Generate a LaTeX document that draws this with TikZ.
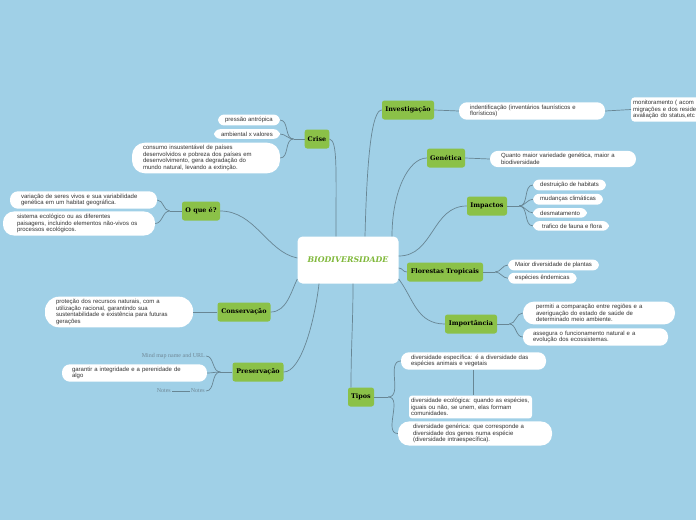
\documentclass[tikz,border=0pt]{standalone}
\usepackage{fontspec}
\setmainfont{Liberation Sans}
\newfontfamily\topicfont{DejaVu Serif}
\newfontfamily\notefont{Liberation Serif}
\usetikzlibrary{positioning}
\definecolor{bgblue}{RGB}{160,208,231}
\definecolor{topicgreen}{RGB}{139,193,72}
\definecolor{titlegreen}{RGB}{128,184,58}
\definecolor{linkgray}{RGB}{104,134,148}
\definecolor{leaftext}{RGB}{50,50,50}
\definecolor{notegray}{RGB}{112,136,150}
\tikzset{
    central/.style={
        fill=white,
        rounded corners=5pt,
        minimum width=101pt,
        minimum height=47pt,
        text=titlegreen,
        font=\topicfont\bfseries\itshape\fontsize{7.8}{9}\selectfont
    },
    topic/.style={
        fill=topicgreen,
        rounded corners=2.5pt,
        inner xsep=3pt,
        minimum height=19pt,
        font=\topicfont\bfseries\fontsize{6.4}{7}\selectfont
    },
    leaf/.style={
        fill=white,
        rounded corners=6pt,
        inner xsep=7pt,
        inner ysep=2.6pt,
        align=left,
        text=leaftext,
        font=\fontsize{6}{6.6}\selectfont
    },
    note/.style={text=notegray, inner sep=1pt, font=\notefont\fontsize{6}{7}\selectfont},
    link/.style={draw=linkgray, line width=0.7pt}
}

\begin{document}
\begin{tikzpicture}[x=1pt, y=-1pt]
        \useasboundingbox (0,0) rectangle (696,520);
        \clip (0,0) rectangle (696,520);
        \fill[bgblue] (0,0) rectangle (696,520);

        % Centre
        \node (bio) [central] at (348,260) {BIODIVERSIDADE};

        % Main topics
        \node (crise) [topic, minimum width=24pt] at (317,139) {Crise};
        \node (invest) [topic, minimum width=52pt] at (408,110) {Investigação};
        \node (genet) [topic, minimum width=38pt] at (446,158) {Genética};
        \node (impact) [topic, minimum width=40pt] at (487,206) {Impactos};
        \node (flor) [topic, minimum width=76pt] at (445,272) {Florestas Tropicais};
        \node (import) [topic, minimum width=52pt] at (471,324) {Importância};
        \node (tipos) [topic, minimum width=26pt] at (361,397) {Tipos};
        \node (preserv) [topic, minimum width=51pt] at (258,372) {Preservação};
        \node (conserv) [topic, minimum width=53pt] at (244,312) {Conservação};
        \node (oque) [topic, minimum width=38pt] at (201,211) {O que é?};

        % Crise
        \node (pressao) [leaf, anchor=east] at (280,120) {pressão antrópica};
        \node (ambient) [leaf, anchor=east] at (280,134) {ambiental x valores};
        \node (consumo) [leaf, inner xsep=11pt, text width=126pt, rounded corners=13pt] at (206,158)
            {consumo insustentável de países\\desenvolvidos e pobreza dos países em\\desenvolvimento,  gera degradação do\\mundo natural, levando a  extinção.};

        % O que e
        \node (variacao) [leaf, inner xsep=11pt, text width=125pt, rounded corners=8pt] at (83.5,200)
            {variação de seres vivos e sua variabilidade\\genética em um habitat geográfica.};
        \node (sistema) [leaf, inner xsep=14pt, text width=124pt, rounded corners=11pt] at (79,223.5)
            {sistema ecológico ou as diferentes\\paisagens, incluindo elementos não-vivos os\\processos ecológicos.};

        % Conservacao
        \node (protecao) [leaf, inner xsep=11pt, text width=126pt, rounded corners=14pt] at (119,312)
            {proteção dos recursos naturais, com a\\utilização racional, garantindo sua\\sustentabilidade e existência para futuras\\gerações};

        % Preservacao
        \node (mapname) [note, anchor=east] at (206,356) {Mind map name and URL};
        \node (garantir) [leaf, inner xsep=10pt, text width=125pt, rounded corners=8pt] at (134.5,373)
            {garantir a integridade e a perenidade de\\algo};
        \node (notesb) [note, anchor=east] at (206,391) {Notes};
        \node (notesa) [note, anchor=east] at (172,391) {Notes};

        % Investigacao
        \node (ident) [leaf, inner xsep=11pt, text width=124pt, rounded corners=8pt] at (532,111)
            {indentificação (inventários faunísticos e\\florísticos)};
        \node (monit) [leaf, anchor=west, inner xsep=2pt, text width=90pt, rounded corners=3pt] at (631,109.5)
            {monitoramento ( acom\\migrações e dos reside\\avaliação do status,etc};

        % Genetica
        \node (quanto) [leaf, inner xsep=11pt, text width=124pt, rounded corners=8pt] at (563,159)
            {Quanto maior variedade genética, maior a\\biodiversidade};

        % Impactos
        \node (destr) [leaf, anchor=west] at (533,185) {destruição de habitats};
        \node (mudanca) [leaf, below=3pt of destr.south west, anchor=north west] {mudanças climáticas};
        \node (desmat) [leaf, below=3pt of mudanca.south west, anchor=north west] {desmatamento};
        \node (trafico) [leaf, below=3pt of desmat.south west, anchor=north west] {\hspace{2pt}trafico de fauna e flora};

        % Florestas Tropicais
        \node (plantas) [leaf, anchor=west] at (508,265) {Maior diversidade de plantas};
        \node (endem) [leaf, below=2pt of plantas.south west, anchor=north west] {espécies êndemicas};

        % Importancia
        \node (permiti) [leaf, inner xsep=13pt, text width=126pt, rounded corners=11pt] at (599,313)
            {permiti a comparação entre regiões e a\\averiguação do estado  de saúde de\\determinado meio ambiente.};
        \node (assegura) [leaf, inner xsep=10pt, text width=125pt, rounded corners=8pt] at (595.5,337)
            {assegura o funcionamento natural e a\\evolução dos ecossistemas.};

        % Tipos
        \node (especif) [leaf, inner xsep=10pt, text width=125pt, rounded corners=8pt] at (473.5,361)
            {diversidade específica: é a diversidade das\\espécies animais e vegetais};
        \node (ecolog) [leaf, inner xsep=2pt, text width=119pt, rounded corners=3pt] at (470.5,407)
            {diversidade ecológica: quando as espécies,\\iguais ou não, se unem, elas formam\\comunidades.};
        \node (generic) [leaf, inner xsep=15pt, text width=124pt, rounded corners=11pt] at (475,433.5)
            {diversidade genérica: que corresponde a\\diversidade dos genes numa espécie\\(diversidade intraespecífica).};

        % Centre to topics
        \draw [link] (crise.east) .. controls +(8,2) and +(0,-70) .. ([xshift=-12pt]bio.north);
        \draw [link] (invest.west) .. controls +(-10,0) and +(2,-80) .. ([xshift=17pt]bio.north);
        \draw [link] (genet.west) .. controls +(-18,0) and +(0,-45) .. ([xshift=44pt]bio.north);
        \draw [link] (impact.west) .. controls +(-35,0) and +(35,0) .. ([yshift=4pt]bio.east);
        \draw [link] (flor.west) .. controls +(-4,0) and +(4,0) .. ([yshift=-8pt]bio.east);
        \draw [link] (import.west) .. controls +(-28,0) and +(15,20) .. ([yshift=-19pt]bio.east);
        \draw [link] ([xshift=-10pt]tipos.north) .. controls +(0,-40) and +(0,40) .. ([xshift=5pt]bio.south);
        \draw [link] (preserv.east) .. controls +(18,0) and +(-4,35) .. ([xshift=-29pt]bio.south);
        \draw [link] (conserv.east) .. controls +(16,0) and +(-6,12) .. ([yshift=-19pt]bio.west);
        \draw [link] (oque.east) .. controls +(35,0) and +(-30,-6) .. ([yshift=2pt]bio.west);

        % Topics to leaves
        \coordinate (criseJ) at ([xshift=-11pt]crise.west);
        \draw [link] (crise.west) -- (criseJ);
        \foreach \leafname in {pressao, ambient, consumo}
            \draw [link] (criseJ) to[out=180, in=0] (\leafname.east);

        \coordinate (oqueJ) at ([xshift=-12pt]oque.west);
        \draw [link] (oque.west) -- (oqueJ);
        \foreach \leafname in {variacao, sistema}
            \draw [link] (oqueJ) to[out=180, in=0] (\leafname.east);

        \draw [link] (conserv.west) -- (protecao.east);

        \coordinate (preservJ) at ([xshift=-12pt]preserv.west);
        \draw [link] (preserv.west) -- (preservJ);
        \foreach \leafname in {mapname, garantir, notesb}
            \draw [link] (preservJ) to[out=180, in=0] (\leafname.east);
        \draw [link] (notesa) -- (notesb);

        \draw [link] (invest.east) -- (ident.west);
        \draw [link] (ident.east) -- (monit.west);
        \draw [link] (genet.east) -- (quanto.west);

        \coordinate (impactJ) at ([xshift=12pt]impact.east);
        \draw [link] (impact.east) -- (impactJ);
        \foreach \leafname in {destr, mudanca, desmat, trafico}
            \draw [link] (impactJ) to[out=0, in=180] (\leafname.west);

        \coordinate (florJ) at ([xshift=12pt]flor.east);
        \draw [link] (flor.east) -- (florJ);
        \foreach \leafname in {plantas, endem}
            \draw [link] (florJ) to[out=0, in=180] (\leafname.west);

        \coordinate (importJ) at ([xshift=12pt]import.east);
        \draw [link] (import.east) -- (importJ);
        \foreach \leafname in {permiti, assegura}
            \draw [link] (importJ) to[out=0, in=180] (\leafname.west);

        \coordinate (tiposJ) at ([xshift=14pt]tipos.east);
        \draw [link] (tipos.east) -- (tiposJ);
        \foreach \leafname in {especif, generic}
            \draw [link] (tiposJ) to[out=0, in=180] (\leafname.west);
        \draw [link] (especif.south) -- (especif.south |- ecolog.north);
\end{tikzpicture}
\end{document}
